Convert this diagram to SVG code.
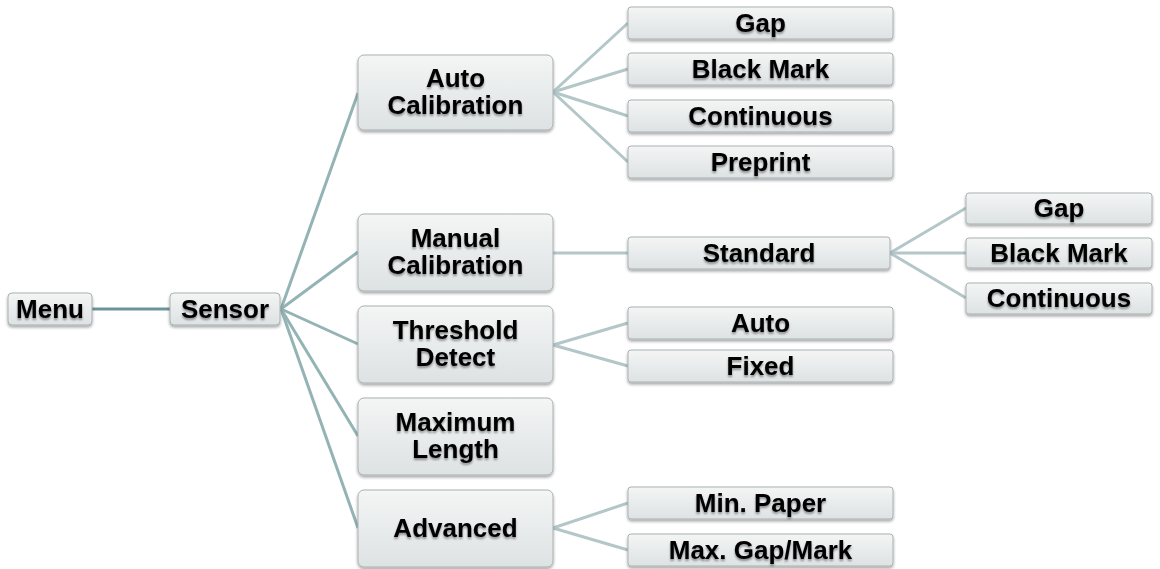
<svg xmlns="http://www.w3.org/2000/svg" width="1160" height="569" viewBox="0 0 1160 569">
<defs>
<linearGradient id="g" x1="0" y1="0" x2="0" y2="1">
<stop offset="0" stop-color="#f4f5f5"/>
<stop offset="1" stop-color="#dde2e3"/>
</linearGradient>
<filter id="sh" x="-10%" y="-20%" width="120%" height="150%">
<feGaussianBlur in="SourceAlpha" stdDeviation="1.5"/>
<feOffset dx="0" dy="2" result="b"/>
<feComponentTransfer><feFuncA type="linear" slope="0.35"/></feComponentTransfer>
<feMerge><feMergeNode/><feMergeNode in="SourceGraphic"/></feMerge>
</filter>
<filter id="ts" x="-10%" y="-30%" width="120%" height="160%">
<feGaussianBlur in="SourceAlpha" stdDeviation="1.2"/>
<feOffset dx="0" dy="1.5"/>
<feComponentTransfer><feFuncA type="linear" slope="0.4"/></feComponentTransfer>
<feMerge><feMergeNode/><feMergeNode in="SourceGraphic"/></feMerge>
</filter>
</defs>
<style>
.box{fill:url(#g);stroke:#a9b1b3;stroke-width:1;filter:url(#sh)}
.t{font-family:"Liberation Sans",Arial,sans-serif;font-weight:bold;font-size:26px;fill:#000;text-anchor:middle;filter:url(#ts)}
.c0{stroke:#6b9599;stroke-width:3;fill:none}
.c1{stroke:#94b3b5;stroke-width:3;fill:none}
.c2{stroke:#b3c7c8;stroke-width:3;fill:none}
</style>
<rect width="1160" height="569" fill="#ffffff"/>
<g id="connectors">
<line class="c0" x1="92" y1="309" x2="170" y2="309"/>
<line class="c1" x1="281" y1="309" x2="358" y2="93"/>
<line class="c1" x1="281" y1="309" x2="358" y2="252"/>
<line class="c1" x1="281" y1="309" x2="358" y2="344"/>
<line class="c1" x1="281" y1="309" x2="358" y2="436"/>
<line class="c1" x1="281" y1="309" x2="358" y2="528"/>
<line class="c2" x1="553" y1="92" x2="628" y2="23"/>
<line class="c2" x1="553" y1="92" x2="628" y2="69"/>
<line class="c2" x1="553" y1="92" x2="628" y2="116"/>
<line class="c2" x1="553" y1="92" x2="628" y2="162"/>
<line class="c2" x1="553" y1="253" x2="628" y2="253"/>
<line class="c2" x1="553" y1="345" x2="628" y2="323"/>
<line class="c2" x1="553" y1="345" x2="628" y2="366"/>
<line class="c2" x1="553" y1="528" x2="628" y2="503"/>
<line class="c2" x1="553" y1="528" x2="628" y2="550"/>
<line class="c2" x1="890" y1="253" x2="966" y2="208"/>
<line class="c2" x1="890" y1="253" x2="966" y2="253"/>
<line class="c2" x1="890" y1="253" x2="966" y2="298"/>
</g>
<g id="menu"><rect class="box" x="8" y="293" width="84" height="32" rx="4"/><text class="t" x="50" y="318">Menu</text></g>
<g id="sensor"><rect class="box" x="170" y="293" width="110" height="32" rx="4"/><text class="t" x="225" y="318">Sensor</text></g>
<g id="auto-calibration"><rect class="box" x="358" y="55" width="195" height="75" rx="6"/><text class="t" x="455.5" y="87">Auto</text><text class="t" x="455.5" y="114">Calibration</text></g>
<g id="manual-calibration"><rect class="box" x="358" y="214" width="195" height="77" rx="6"/><text class="t" x="455.5" y="247">Manual</text><text class="t" x="455.5" y="274">Calibration</text></g>
<g id="threshold-detect"><rect class="box" x="358" y="306" width="195" height="77" rx="6"/><text class="t" x="455.5" y="339">Threshold</text><text class="t" x="455.5" y="366">Detect</text></g>
<g id="maximum-length"><rect class="box" x="358" y="398" width="195" height="77" rx="6"/><text class="t" x="455.5" y="431">Maximum</text><text class="t" x="455.5" y="458">Length</text></g>
<g id="advanced"><rect class="box" x="358" y="490" width="195" height="77" rx="6"/><text class="t" x="455.5" y="537">Advanced</text></g>
<g id="ac-gap"><rect class="box" x="628" y="7" width="265" height="32" rx="3"/><text class="t" x="760.5" y="32">Gap</text></g>
<g id="ac-black-mark"><rect class="box" x="628" y="53" width="265" height="32" rx="3"/><text class="t" x="760.5" y="78">Black Mark</text></g>
<g id="ac-continuous"><rect class="box" x="628" y="100" width="265" height="32" rx="3"/><text class="t" x="760.5" y="125">Continuous</text></g>
<g id="ac-preprint"><rect class="box" x="628" y="146" width="265" height="32" rx="3"/><text class="t" x="760.5" y="171">Preprint</text></g>
<g id="standard"><rect class="box" x="628" y="237" width="262" height="32" rx="3"/><text class="t" x="759" y="262">Standard</text></g>
<g id="td-auto"><rect class="box" x="628" y="307" width="265" height="32" rx="3"/><text class="t" x="760.5" y="332">Auto</text></g>
<g id="td-fixed"><rect class="box" x="628" y="350" width="265" height="32" rx="3"/><text class="t" x="760.5" y="375">Fixed</text></g>
<g id="min-paper"><rect class="box" x="628" y="487" width="265" height="32" rx="3"/><text class="t" x="760.5" y="512">Min. Paper</text></g>
<g id="max-gap-mark"><rect class="box" x="628" y="534" width="265" height="32" rx="3"/><text class="t" x="760.5" y="559">Max. Gap/Mark</text></g>
<g id="st-gap"><rect class="box" x="966" y="193" width="186" height="31" rx="3"/><text class="t" x="1059" y="217">Gap</text></g>
<g id="st-black-mark"><rect class="box" x="966" y="238" width="186" height="30" rx="3"/><text class="t" x="1059" y="262">Black Mark</text></g>
<g id="st-continuous"><rect class="box" x="966" y="283" width="186" height="31" rx="3"/><text class="t" x="1059" y="307">Continuous</text></g>
</svg>
